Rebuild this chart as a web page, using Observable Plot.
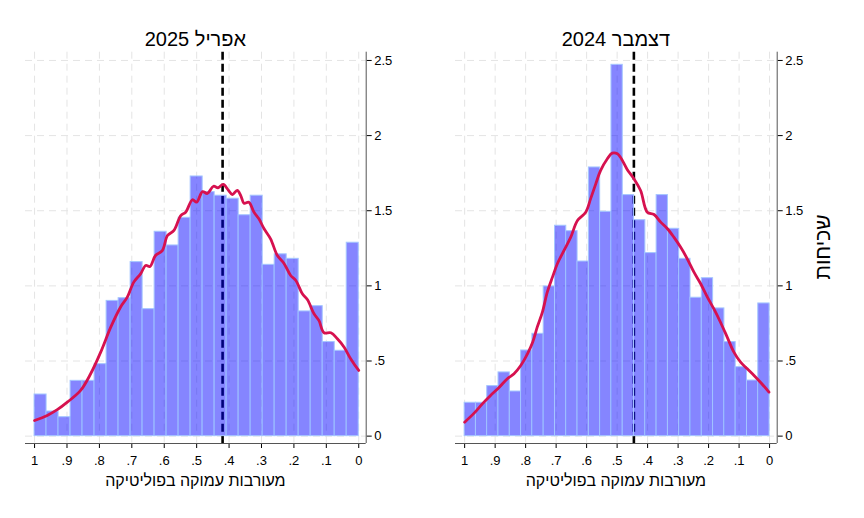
<!DOCTYPE html>
<html>
<head>
<meta charset="utf-8">
<script src="https://cdn.jsdelivr.net/npm/d3@7"></script>
<script src="https://cdn.jsdelivr.net/npm/@observablehq/plot@0.6"></script>
<style>
  body { margin: 0; background: #fff; }
  #chart { position: relative; width: 864px; height: 518px; background: #fff; font-family: Arial, "Liberation Sans", sans-serif; color: #000; overflow: hidden; }
  .panel { position: absolute; top: 0; }
  .title { position: absolute; font-size: 20px; line-height: 20px; white-space: nowrap; transform: translateX(-50%); direction: rtl; }
  .xlabel { position: absolute; font-size: 16px; line-height: 16px; white-space: nowrap; transform: translateX(-50%); direction: rtl; }
  .ylabel { position: absolute; font-size: 21px; line-height: 21px; white-space: nowrap; transform: translate(-50%, -50%) rotate(-90deg); direction: rtl; }
</style>
</head>
<body>
<div id="chart"></div>
<script>
// ---- data ----
const titles = ["אפריל 2025", "דצמבר 2024"];
const xLabel = "מעורבות עמוקה בפוליטיקה";
const yLabel = "שכיחות";
const xTicks = [1, 0.9, 0.8, 0.7, 0.6, 0.5, 0.4, 0.3, 0.2, 0.1, 0];
const yTicks = [0, 0.5, 1, 1.5, 2, 2.5];

// histogram density heights, bins ordered from x=1 down to x=0 (27 bins)
const aprilBars = [0.277, 0.164, 0.126, 0.368, 0.368, 0.479, 0.900, 0.918, 1.158, 0.845,
  1.360, 1.269, 1.453, 1.728, 1.624, 1.600, 1.580, 1.470, 1.600, 1.140,
  1.210, 1.180, 0.830, 0.865, 0.626, 0.568, 1.287];
const decemberBars = [0.222, 0.222, 0.333, 0.424, 0.297, 0.570, 0.681, 0.996, 1.400, 1.364,
  1.162, 1.788, 1.493, 2.471, 1.604, 1.437, 1.218, 1.604, 1.380, 1.180,
  0.921, 1.051, 0.850, 0.626, 0.459, 0.370, 0.883];

// kernel density curves
const aprilCurveX = [1.0, 0.961, 0.930, 0.899, 0.858, 0.827, 0.796, 0.765, 0.735, 0.714, 0.694, 0.673, 0.657, 0.644, 0.627, 0.606, 0.590, 0.570, 0.549, 0.534, 0.513, 0.500, 0.482, 0.467, 0.448, 0.434, 0.418, 0.403, 0.390, 0.375, 0.364, 0.354, 0.339, 0.323, 0.308, 0.292, 0.272, 0.251, 0.231, 0.210, 0.194, 0.174, 0.158, 0.138, 0.123, 0.107, 0.086, 0.066, 0.045, 0.025, 0.0];
const aprilCurveY = [0.104, 0.138, 0.176, 0.226, 0.304, 0.415, 0.559, 0.725, 0.858, 0.925, 1.025, 1.080, 1.136, 1.129, 1.202, 1.235, 1.335, 1.369, 1.468, 1.490, 1.573, 1.557, 1.627, 1.615, 1.663, 1.653, 1.675, 1.639, 1.608, 1.635, 1.601, 1.550, 1.557, 1.490, 1.446, 1.380, 1.313, 1.202, 1.151, 1.069, 1.036, 0.947, 0.907, 0.814, 0.770, 0.688, 0.688, 0.648, 0.592, 0.515, 0.437];
const decemberCurveX = [1.0, 0.969, 0.942, 0.915, 0.888, 0.860, 0.838, 0.816, 0.794, 0.777, 0.762, 0.745, 0.729, 0.712, 0.696, 0.674, 0.652, 0.630, 0.603, 0.587, 0.570, 0.554, 0.532, 0.516, 0.499, 0.489, 0.467, 0.445, 0.423, 0.401, 0.379, 0.357, 0.335, 0.314, 0.292, 0.270, 0.248, 0.226, 0.204, 0.183, 0.161, 0.139, 0.117, 0.095, 0.073, 0.051, 0.030, 0.002];
const decemberCurveY = [0.093, 0.153, 0.215, 0.271, 0.322, 0.382, 0.415, 0.470, 0.548, 0.625, 0.725, 0.825, 0.958, 1.058, 1.147, 1.236, 1.324, 1.435, 1.490, 1.579, 1.679, 1.768, 1.846, 1.883, 1.879, 1.856, 1.775, 1.713, 1.635, 1.490, 1.475, 1.424, 1.380, 1.324, 1.258, 1.180, 1.091, 1.014, 0.925, 0.848, 0.758, 0.659, 0.559, 0.492, 0.448, 0.404, 0.359, 0.293];

// sample means (dashed lines)
const means = [0.42, 0.445];

// ---- drawing ----
const fmt = d => d === 0 ? "0" : String(d).replace(/^0\./, ".");
const yDomain = [-0.049, 2.555];

function panel({bars, cx, cy, mean, width, marginRight, xDomain}) {
  const n = bars.length;
  const barData = bars.map((h, i) => ({x1: 1 - i / n, x2: 1 - (i + 1) / n, y: h}));
  const curve = cx.map((x, i) => ({x, y: cy[i]}));
  return Plot.plot({
    width, height: 518,
    marginLeft: 25, marginRight, marginTop: 51.7, marginBottom: 75,
    style: {fontFamily: "Arial, 'Liberation Sans', sans-serif", fontSize: "13px", color: "#000", background: "transparent", overflow: "visible"},
    x: {domain: xDomain, ticks: xTicks, tickFormat: fmt, tickSize: 5, tickPadding: 7, label: null},
    y: {domain: yDomain, ticks: yTicks, tickFormat: fmt, axis: "right", tickSize: 5, tickPadding: 3, label: null},
    marks: [
      Plot.ruleX(xTicks, {stroke: "#e4e4e4", strokeDasharray: "7,5", strokeWidth: 1}),
      Plot.ruleY(yTicks, {stroke: "#e4e4e4", strokeDasharray: "7,5", strokeWidth: 1}),
      Plot.ruleX([mean], {stroke: "#000", strokeWidth: 2.6, strokeDasharray: "8,4"}),
      Plot.rect(barData, {x1: "x1", x2: "x2", y1: 0, y2: "y", fill: "#0000ff", fillOpacity: 0.48, stroke: "#a4c6ff", strokeWidth: 1}),
      Plot.line(curve, {x: "x", y: "y", stroke: "#d6114f", strokeWidth: 2.8, curve: "catmull-rom"}),
      Plot.ruleX([xDomain[1]], {stroke: "#555", strokeWidth: 1}),
      Plot.ruleY([yDomain[0]], {stroke: "#555", strokeWidth: 1})
    ]
  });
}

const chart = document.getElementById("chart");

const left = panel({bars: aprilBars, cx: aprilCurveX, cy: aprilCurveY, mean: means[0], width: 420, marginRight: 54.3, xDomain: [1.028, -0.023]});
left.classList.add("panel");
left.style.left = "0px";
chart.appendChild(left);

const right = panel({bars: decemberBars, cx: decemberCurveX, cy: decemberCurveY, mean: means[1], width: 434, marginRight: 87.3, xDomain: [1.03, -0.025]});
right.classList.add("panel");
right.style.left = "430px";
chart.appendChild(right);

function addText(cls, text, x, y) {
  const d = document.createElement("div");
  d.className = cls;
  d.textContent = text;
  d.style.left = x + "px";
  d.style.top = y + "px";
  chart.appendChild(d);
}
addText("title", titles[0], 195.4, 28.8);
addText("title", titles[1], 615.9, 28.8);
addText("xlabel", xLabel, 195.4, 473.2);
addText("xlabel", xLabel, 615.9, 473.2);
addText("ylabel", yLabel, 821.7, 247);
</script>
</body>
</html>
